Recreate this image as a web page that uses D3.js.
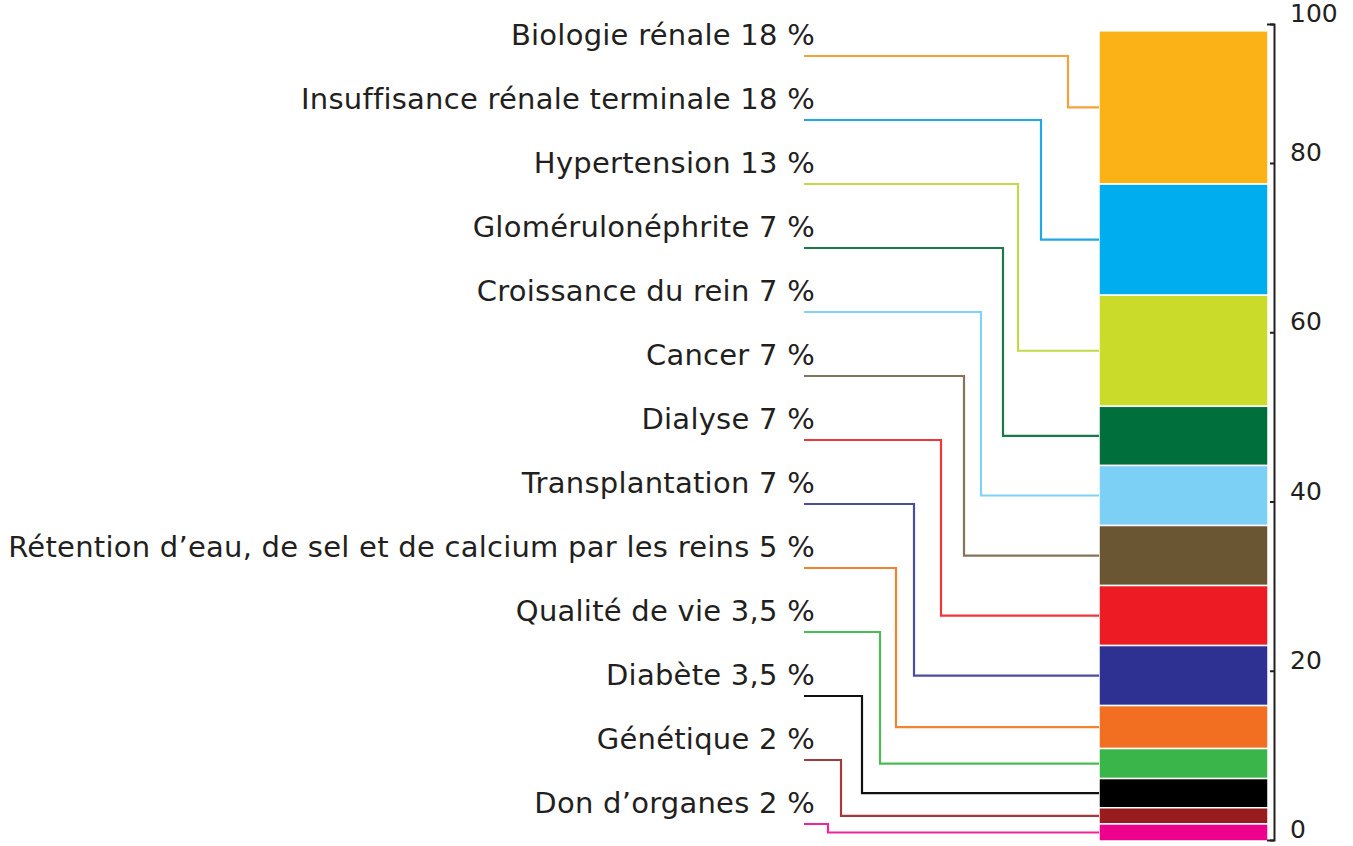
<!DOCTYPE html>
<html>
<head>
<meta charset="utf-8">
<script src="https://cdn.jsdelivr.net/npm/d3@7"></script>
<style>
  body { margin: 0; background: #fff; }
  text { font-family: "DejaVu Sans", Verdana, sans-serif; fill: #231f20; }
</style>
</head>
<body>
<div id="plot"></div>
<script>
// categories, top of the stack first
names = ["Biologie rénale", "Insuffisance rénale terminale", "Hypertension", "Glomérulonéphrite",
  "Croissance du rein", "Cancer", "Dialyse", "Transplantation",
  "Rétention d’eau, de sel et de calcium par les reins", "Qualité de vie", "Diabète",
  "Génétique", "Don d’organes"]
// percentages as printed in the labels
labelPct = ["18", "18", "13", "7", "7", "7", "7", "7", "5", "3,5", "3,5", "2", "2"]
// segment heights as drawn in the bar
barValues = [18.9, 13.7, 13.7, 7.3, 7.4, 7.4, 7.4, 7.4, 5.3, 3.7, 3.6, 2.0, 2.1]
colors = ["#fbb216", "#00aeef", "#cbdb2a", "#006f3c", "#7dd0f5", "#6b5634", "#ed1c24",
  "#2e3192", "#f26f21", "#3ab54a", "#000000", "#981b1e", "#ec008c"]
lineColors = ["#f7a13a", "#1ea9e6", "#c4d84a", "#1b7a4a", "#7fd3f7", "#85745a", "#f0363d",
  "#4a4da0", "#f4832f", "#4cba55", "#111111", "#a23b3d", "#ef2599"]
axisTicks = [0, 20, 40, 60, 80, 100]

// layout
W = 1353, H = 846
barX0 = 1099, barX1 = 1268
axisX = 1274
labelRight = 815
lineStart = 804
elbowX = [1068, 1041, 1018, 1003, 981, 964, 941, 914, 896, 880, 862, 841, 828]

svg = d3.select("#plot").append("svg").attr("width", W).attr("height", H).attr("viewBox", [0, 0, W, H])

y = d3.scaleLinear().domain([0, 100]).range([841, 30])
row = d3.scaleLinear().domain([0, names.length - 1]).range([56, 824])

// stack from the bottom up
n = barValues.length
tops = []
acc = 0
for (i = n - 1; i >= 0; i--) { tops[i] = [acc, acc + barValues[i]]; acc += barValues[i] }

items = names.map((d, i) => ({name: d, pct: labelPct[i], v0: tops[i][0], v1: tops[i][1], i: i}))

svg.append("g")
  .selectAll("rect")
  .data(items)
  .join("rect")
    .attr("x", barX0)
    .attr("width", barX1 - barX0)
    .attr("y", d => y(d.v1))
    .attr("height", d => y(d.v0) - y(d.v1))
    .attr("fill", d => colors[d.i])
    .attr("stroke", "#fff")
    .attr("stroke-width", 1.5)

svg.append("g")
    .attr("fill", "none")
    .attr("stroke-width", 2.2)
  .selectAll("path")
  .data(items)
  .join("path")
    .attr("stroke", d => lineColors[d.i])
    .attr("d", d => `M${lineStart},${row(d.i)}H${elbowX[d.i]}V${y((d.v0 + d.v1) / 2)}H${barX0}`)

svg.append("g")
  .selectAll("text")
  .data(items)
  .join("text")
    .attr("x", labelRight)
    .attr("y", d => row(d.i) - 11)
    .attr("text-anchor", "end")
    .attr("font-size", 29)
    .attr("letter-spacing", 0.25)
    .text(d => `${d.name} ${d.pct} %`)

// axis: the printed ticks are not evenly spaced up to 100
ay = d3.scaleLinear().domain([0, 80, 100]).range([840, 163, 24])
ax = svg.append("g").attr("transform", `translate(${axisX},0)`)
  .call(d3.axisRight(ay).tickValues(axisTicks).tickSizeInner(-4).tickSizeOuter(-7).tickPadding(16))
ax.select(".domain").attr("stroke", "#231f20").attr("stroke-width", 2)
ax.selectAll(".tick line").attr("stroke", "#231f20").attr("stroke-width", 2)
ax.selectAll(".tick text").attr("font-size", 25).attr("font-family", "DejaVu Sans, Verdana, sans-serif")
  .attr("fill", "#231f20").attr("dy", "-0.1em")
</script>
</body>
</html>
